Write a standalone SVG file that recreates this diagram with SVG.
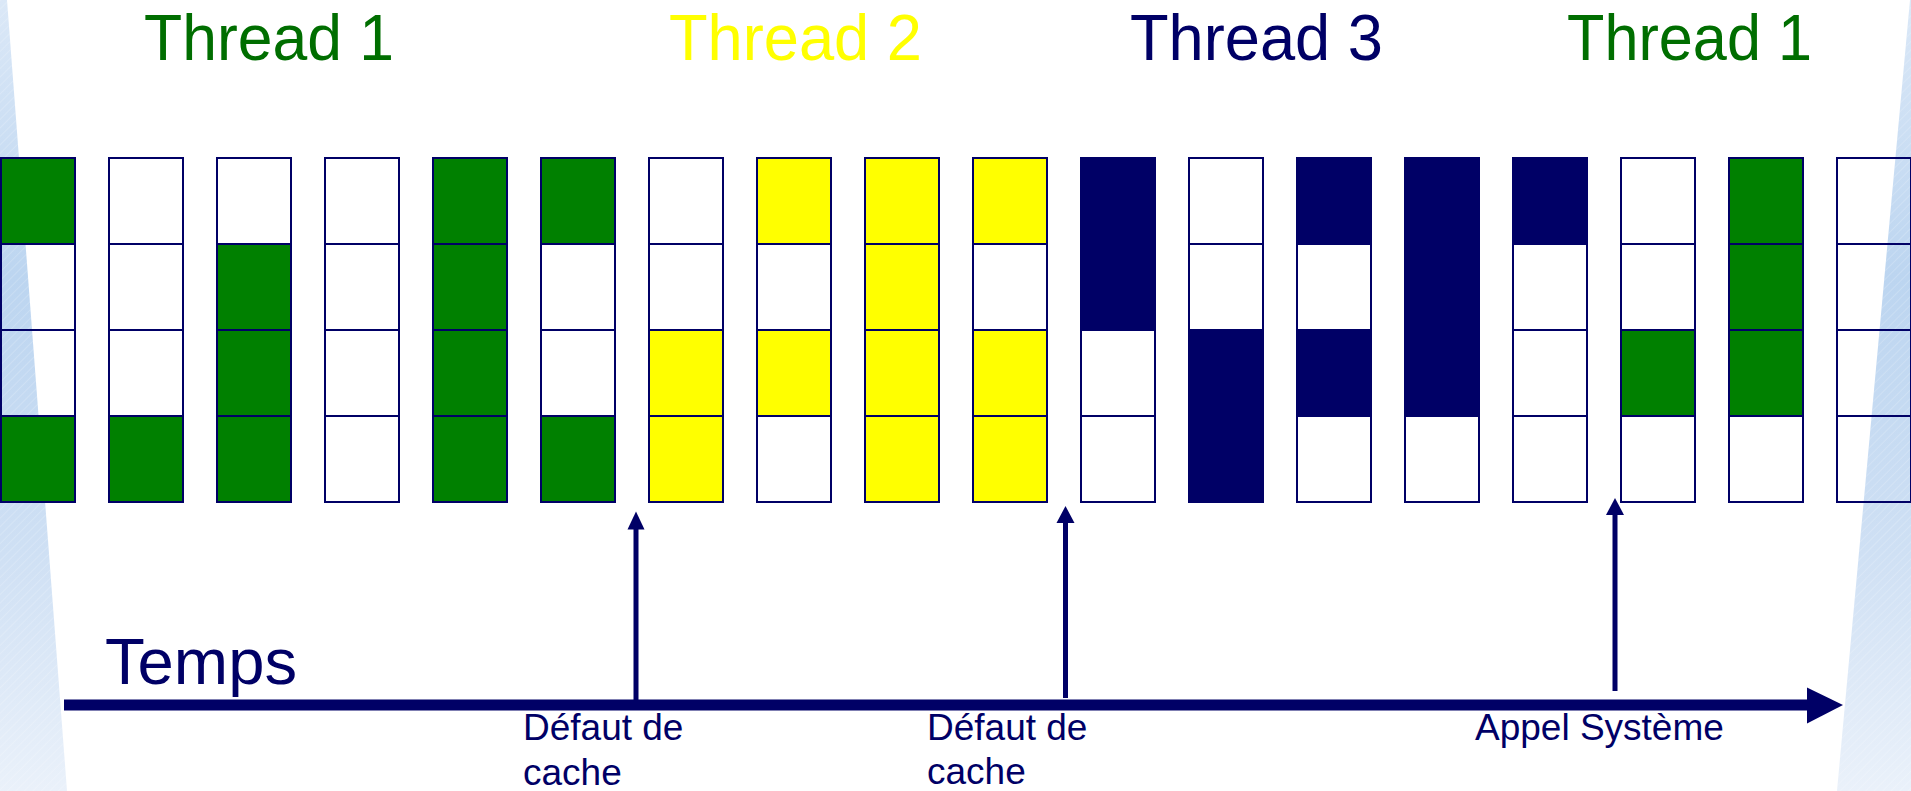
<svg xmlns="http://www.w3.org/2000/svg" width="1911" height="791" viewBox="0 0 1911 791">
<defs>
<linearGradient id="wedge" x1="0" y1="0" x2="0" y2="1">
<stop offset="0" stop-color="#dbe8f7"/>
<stop offset="0.35" stop-color="#bcd5f0"/>
<stop offset="0.7" stop-color="#cfe0f4"/>
<stop offset="1" stop-color="#eaf1fa"/>
</linearGradient>
<pattern id="hatch" width="6" height="6" patternUnits="userSpaceOnUse" patternTransform="rotate(45)">
<line x1="0" y1="0" x2="0" y2="6" stroke="#ffffff" stroke-opacity="0.35" stroke-width="1"/>
</pattern>
<style>
.c{stroke:#000066;stroke-width:2;}
.g{fill:#008000;}
.y{fill:#ffff00;}
.n{fill:#000066;}
.w{fill:none;}
.t{font-family:"Liberation Sans",Arial,Helvetica,sans-serif;font-size:65px;}
.l{font-family:"Liberation Sans",Arial,Helvetica,sans-serif;font-size:37px;fill:#000066;}
.ax{fill:#000066;}
</style>
</defs>
<rect x="0" y="0" width="1911" height="791" fill="#ffffff"/>
<g id="background">
<polygon points="0,0 7,0 67,791 0,791" fill="url(#wedge)"/>
<polygon points="0,0 7,0 67,791 0,791" fill="url(#hatch)"/>
<polygon points="1910,0 1911,0 1911,791 1837,791" fill="url(#wedge)"/>
<polygon points="1910,0 1911,0 1911,791 1837,791" fill="url(#hatch)"/>
</g>
<g id="titles">
<text class="t" x="144" y="59.5" fill="#006e00" textLength="250" lengthAdjust="spacingAndGlyphs">Thread 1</text>
<text class="t" x="669" y="59.5" fill="#ffff00" textLength="253" lengthAdjust="spacingAndGlyphs">Thread 2</text>
<text class="t" x="1130" y="59.5" fill="#000066" textLength="253" lengthAdjust="spacingAndGlyphs">Thread 3</text>
<text class="t" x="1567" y="59.5" fill="#006e00" textLength="245" lengthAdjust="spacingAndGlyphs">Thread 1</text>
</g>
<g id="col1"><rect class="c g" x="1" y="158" width="74" height="86"/><rect class="c w" x="1" y="244" width="74" height="86"/><rect class="c w" x="1" y="330" width="74" height="86"/><rect class="c g" x="1" y="416" width="74" height="86"/></g>
<g id="col2"><rect class="c w" x="109" y="158" width="74" height="86"/><rect class="c w" x="109" y="244" width="74" height="86"/><rect class="c w" x="109" y="330" width="74" height="86"/><rect class="c g" x="109" y="416" width="74" height="86"/></g>
<g id="col3"><rect class="c w" x="217" y="158" width="74" height="86"/><rect class="c g" x="217" y="244" width="74" height="86"/><rect class="c g" x="217" y="330" width="74" height="86"/><rect class="c g" x="217" y="416" width="74" height="86"/></g>
<g id="col4"><rect class="c w" x="325" y="158" width="74" height="86"/><rect class="c w" x="325" y="244" width="74" height="86"/><rect class="c w" x="325" y="330" width="74" height="86"/><rect class="c w" x="325" y="416" width="74" height="86"/></g>
<g id="col5"><rect class="c g" x="433" y="158" width="74" height="86"/><rect class="c g" x="433" y="244" width="74" height="86"/><rect class="c g" x="433" y="330" width="74" height="86"/><rect class="c g" x="433" y="416" width="74" height="86"/></g>
<g id="col6"><rect class="c g" x="541" y="158" width="74" height="86"/><rect class="c w" x="541" y="244" width="74" height="86"/><rect class="c w" x="541" y="330" width="74" height="86"/><rect class="c g" x="541" y="416" width="74" height="86"/></g>
<g id="col7"><rect class="c w" x="649" y="158" width="74" height="86"/><rect class="c w" x="649" y="244" width="74" height="86"/><rect class="c y" x="649" y="330" width="74" height="86"/><rect class="c y" x="649" y="416" width="74" height="86"/></g>
<g id="col8"><rect class="c y" x="757" y="158" width="74" height="86"/><rect class="c w" x="757" y="244" width="74" height="86"/><rect class="c y" x="757" y="330" width="74" height="86"/><rect class="c w" x="757" y="416" width="74" height="86"/></g>
<g id="col9"><rect class="c y" x="865" y="158" width="74" height="86"/><rect class="c y" x="865" y="244" width="74" height="86"/><rect class="c y" x="865" y="330" width="74" height="86"/><rect class="c y" x="865" y="416" width="74" height="86"/></g>
<g id="col10"><rect class="c y" x="973" y="158" width="74" height="86"/><rect class="c w" x="973" y="244" width="74" height="86"/><rect class="c y" x="973" y="330" width="74" height="86"/><rect class="c y" x="973" y="416" width="74" height="86"/></g>
<g id="col11"><rect class="c n" x="1081" y="158" width="74" height="86"/><rect class="c n" x="1081" y="244" width="74" height="86"/><rect class="c w" x="1081" y="330" width="74" height="86"/><rect class="c w" x="1081" y="416" width="74" height="86"/></g>
<g id="col12"><rect class="c w" x="1189" y="158" width="74" height="86"/><rect class="c w" x="1189" y="244" width="74" height="86"/><rect class="c n" x="1189" y="330" width="74" height="86"/><rect class="c n" x="1189" y="416" width="74" height="86"/></g>
<g id="col13"><rect class="c n" x="1297" y="158" width="74" height="86"/><rect class="c w" x="1297" y="244" width="74" height="86"/><rect class="c n" x="1297" y="330" width="74" height="86"/><rect class="c w" x="1297" y="416" width="74" height="86"/></g>
<g id="col14"><rect class="c n" x="1405" y="158" width="74" height="86"/><rect class="c n" x="1405" y="244" width="74" height="86"/><rect class="c n" x="1405" y="330" width="74" height="86"/><rect class="c w" x="1405" y="416" width="74" height="86"/></g>
<g id="col15"><rect class="c n" x="1513" y="158" width="74" height="86"/><rect class="c w" x="1513" y="244" width="74" height="86"/><rect class="c w" x="1513" y="330" width="74" height="86"/><rect class="c w" x="1513" y="416" width="74" height="86"/></g>
<g id="col16"><rect class="c w" x="1621" y="158" width="74" height="86"/><rect class="c w" x="1621" y="244" width="74" height="86"/><rect class="c g" x="1621" y="330" width="74" height="86"/><rect class="c w" x="1621" y="416" width="74" height="86"/></g>
<g id="col17"><rect class="c g" x="1729" y="158" width="74" height="86"/><rect class="c g" x="1729" y="244" width="74" height="86"/><rect class="c g" x="1729" y="330" width="74" height="86"/><rect class="c w" x="1729" y="416" width="74" height="86"/></g>
<g id="col18"><rect class="c w" x="1837" y="158" width="74" height="86"/><rect class="c w" x="1837" y="244" width="74" height="86"/><rect class="c w" x="1837" y="330" width="74" height="86"/><rect class="c w" x="1837" y="416" width="74" height="86"/></g>
<g id="connectors">
<rect class="ax" x="64" y="699.5" width="1744" height="11"/>
<polygon class="ax" points="1807,687.5 1843,705 1807,723.5"/>
<rect class="ax" x="633.5" y="527" width="5" height="173"/>
<polygon class="ax" points="627.5,529.5 636,511.5 644.5,529.5"/>
<rect class="ax" x="1063" y="521" width="5" height="177"/>
<polygon class="ax" points="1056.5,523 1065.5,506 1074.5,523"/>
<rect class="ax" x="1612.5" y="513" width="5" height="178"/>
<polygon class="ax" points="1606,515 1615,498 1624,515"/>
</g>
<g id="labels">
<text class="t" x="105" y="684" fill="#000066" textLength="192" lengthAdjust="spacingAndGlyphs">Temps</text>
<text class="l" x="523" y="740">Défaut de</text>
<text class="l" x="523" y="785">cache</text>
<text class="l" x="927" y="740">Défaut de</text>
<text class="l" x="927" y="784">cache</text>
<text class="l" x="1475" y="740">Appel Système</text>
</g>
</svg>
